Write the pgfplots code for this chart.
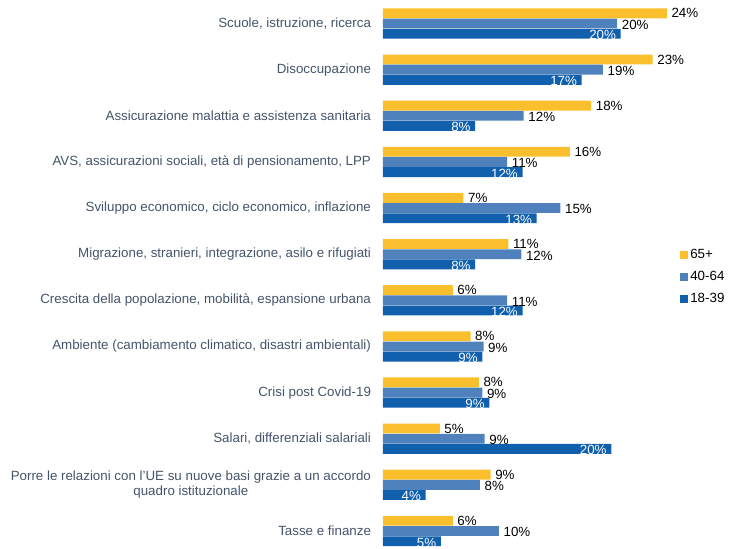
\documentclass[border=0pt]{standalone}
\usepackage{fontspec}
\setmainfont{Liberation Sans}
\usepackage{pgfplots}
\pgfplotsset{compat=1.18}
\definecolor{cY}{RGB}{251,191,45}
\definecolor{cM}{RGB}{79,129,189}
\definecolor{cD}{RGB}{16,96,174}
\definecolor{labc}{RGB}{68,84,106}
\begin{document}
\begin{tikzpicture}[x=1pt,y=1pt]
\useasboundingbox (0,0) rectangle (549.75,411.75);
\begin{axis}[
  anchor=origin, at={(287.25pt,13.5pt)},
  x=8.87pt, y=34.6pt,
  xmin=0, xmax=28, ymin=-0.3, ymax=11.4,
  hide x axis,
  axis y line*=left,
  y axis line style={draw=none},
  major tick length=0pt,
  clip=false,
  ytick={0,...,11},
  yticklabels={{Tasse e finanze},
    {Porre le relazioni con l'UE su nuove basi grazie a un accordo\\quadro istituzionale},
    {Salari, differenziali salariali},
    {Crisi post Covid-19},
    {Ambiente (cambiamento climatico, disastri ambientali)},
    {Crescita della popolazione, mobilità, espansione urbana},
    {Migrazione, stranieri, integrazione, asilo e rifugiati},
    {Sviluppo economico, ciclo economico, inflazione},
    {AVS, assicurazioni sociali, età di pensionamento, LPP},
    {Assicurazione malattia e assistenza sanitaria},
    {Disoccupazione},
    {Scuole, istruzione, ricerca}},
  yticklabel style={font=\fontsize{10}{11.5}\selectfont, text=labc, align=center, xshift=-5.5pt},
  bar width=7.4pt,
  point meta=explicit symbolic,
  nodes near coords={\pgfplotspointmeta\%},
  legend style={draw=none, fill=none, at={(0.8846,0.558)}, anchor=north west,
    font=\fontsize{10}{12}\selectfont, row sep=4pt},
  legend cell align=left,
  legend image code/.code={\fill[#1] (0pt,-2.8pt) rectangle (5.6pt,2.8pt);},
]
\addplot[xbar, bar shift=7.65pt, fill=cY, draw=none,
  nodes near coords style={anchor=west, text=black, font=\fontsize{10}{12}\selectfont, yshift=7.65pt}]
  table[x=x,y=y,meta=l]{
y x l
11 24.0 24
10 22.8 23
9 17.6 18
8 15.8 16
7 6.8 7
6 10.6 11
5 5.9 6
4 7.4 8
3 8.1 8
2 4.8 5
1 9.1 9
0 5.9 6
};
\addplot[xbar, bar shift=0pt, fill=cM, draw=none,
  nodes near coords style={anchor=west, text=black, font=\fontsize{10}{12}\selectfont, yshift=-1pt}]
  table[x=x,y=y,meta=l]{
y x l
11 19.8 20
10 18.6 19
9 11.9 12
8 10.5 11
7 15.0 15
6 11.7 12
5 10.5 11
4 8.5 9
3 8.4 9
2 8.6 9
1 8.2 8
0 9.8 10
};
\addplot[xbar, bar shift=-7.65pt, fill=cD, draw=none,
  nodes near coords style={anchor=east, text=white, font=\fontsize{10}{12}\selectfont, yshift=-8.6pt}]
  table[x=x,y=y,meta=l]{
y x l
11 20.1 20
10 16.8 17
9 7.8 8
8 11.8 12
7 13.0 13
6 7.8 8
5 11.8 12
4 8.4 9
3 9.0 9
2 19.3 20
1 3.6 4
0 4.9 5
};
\legend{65+, 40-64, 18-39}
\end{axis}
\end{tikzpicture}
\end{document}
